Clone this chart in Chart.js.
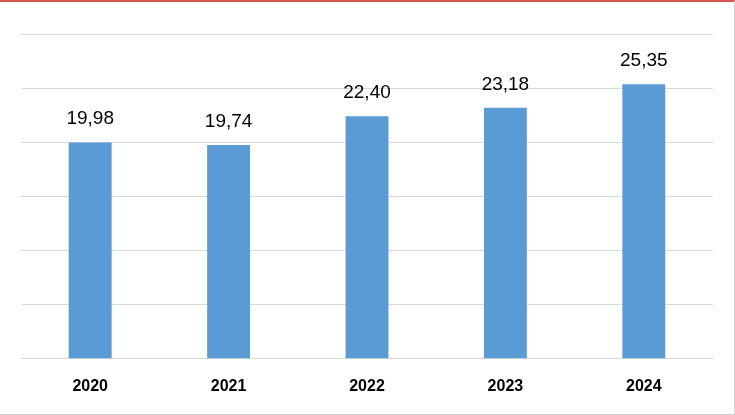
<!DOCTYPE html>
<html>
<head>
<meta charset="utf-8">
<script src="https://cdn.jsdelivr.net/npm/chart.js@4"></script>
<style>
  html, body { margin: 0; padding: 0; background: #fff; }
  #wrap { position: relative; width: 735px; height: 415px; box-sizing: border-box;
          border-top: 2px solid #d9534f; border-right: 1px solid #d0d0d0; border-bottom: 1px solid #d0d0d0; }
</style>
</head>
<body>
<div id="wrap"><canvas id="chart"></canvas></div>
<script>
// chart data
const years = ['2020', '2021', '2022', '2023', '2024'];
const values = [19.98, 19.74, 22.40, 23.18, 25.35];
const yTicks = [0, 5, 10, 15, 20, 25, 30];

// draws the value above each bar, with a comma as decimal mark
const valueLabels = {
    id: 'valueLabels',
    afterDatasetsDraw(chart) {
        const ctx = chart.ctx;
        const meta = chart.getDatasetMeta(0);
        ctx.save();
        ctx.font = '19px "Liberation Sans", Arial, sans-serif';
        ctx.fillStyle = '#000';
        ctx.textAlign = 'center';
        ctx.textBaseline = 'bottom';
        meta.data.forEach((bar, i) => {
            ctx.fillText(values[i].toFixed(2).replace('.', ','), bar.x, bar.y - 14);
        });
        ctx.restore();
    }
};

new Chart(document.getElementById('chart'), {
    type: 'bar',
    data: {
        labels: years,
        datasets: [{
            data: values,
            backgroundColor: '#5b9bd5',
            barPercentage: 0.31,
            categoryPercentage: 1
        }]
    },
    options: {
        responsive: true,
        maintainAspectRatio: false,
        animation: false,
        layout: { padding: { left: 21, right: 21, top: 32, bottom: 8 } },
        plugins: { legend: { display: false }, tooltip: { enabled: false } },
        scales: {
            x: {
                grid: { display: false },
                border: { display: false },
                ticks: { color: '#000', font: { family: '"Liberation Sans", Arial, sans-serif', size: 16, weight: 'bold' }, padding: 10 }
            },
            y: {
                min: yTicks[0],
                max: yTicks[yTicks.length - 1],
                afterBuildTicks(axis) { axis.ticks = yTicks.map(v => ({ value: v })); },
                ticks: { display: false },
                grid: { color: '#d9d9d9', drawTicks: false },
                border: { display: false }
            }
        }
    },
    plugins: [valueLabels]
});
</script>
</body>
</html>
